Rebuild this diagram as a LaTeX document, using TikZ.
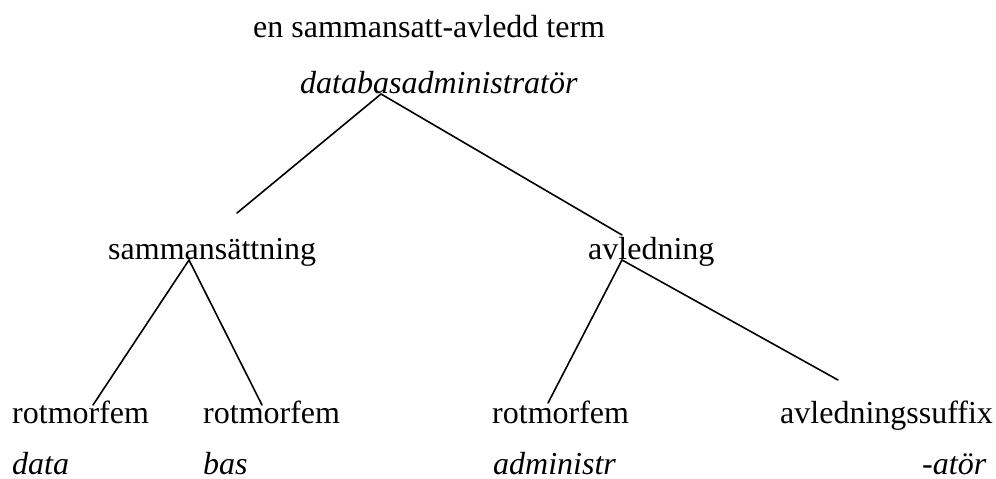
\documentclass[tikz,border=0pt]{standalone}
\usepackage{fontspec}
\setmainfont{Liberation Serif}
\begin{document}
\begin{tikzpicture}[x=1pt,y=-1pt,
  lbl/.style={inner sep=0pt,anchor=base west,font=\fontsize{32}{38}\selectfont},
  ex/.style={lbl,font=\fontsize{32}{38}\selectfont\itshape},
  branch/.style={line width=1.6pt,line cap=round}]
\useasboundingbox (0,0) rectangle (996,479);
\node[lbl] (title) at (253,37) {en sammansatt-avledd term};
\node[ex] (root) at (300,93) {databasadministratör};
\node[lbl] (samm) at (108,259) {sammansättning};
\node[lbl] (avl) at (588,259) {avledning};
\node[lbl] (r1) at (12,423) {rotmorfem};
\node[lbl] (r2) at (203,423) {rotmorfem};
\node[lbl] (r3) at (492,423) {rotmorfem};
\node[lbl] (suf) at (780,423) {avledningssuffix};
\node[ex] (e1) at (12,474) {data};
\node[ex] (e2) at (203,474) {bas};
\node[ex] (e3) at (493,474) {administr};
\node[ex] (e4) at (922,474) {-atör};
% connector end points
\coordinate (rootA) at (381,94);
\coordinate (sammT) at (237,213);
\coordinate (avlT) at (622,235);
\coordinate (sammA) at (189,260);
\coordinate (r1T) at (93,405);
\coordinate (r2T) at (262,405);
\coordinate (avlA) at (622,260);
\coordinate (r3T) at (548,403);
\coordinate (sufT) at (838,380);
\draw[branch] (sammT) -- (rootA) -- (avlT);
\draw[branch] (r1T) -- (sammA) -- (r2T);
\draw[branch] (r3T) -- (avlA) -- (sufT);
\end{tikzpicture}
\end{document}
